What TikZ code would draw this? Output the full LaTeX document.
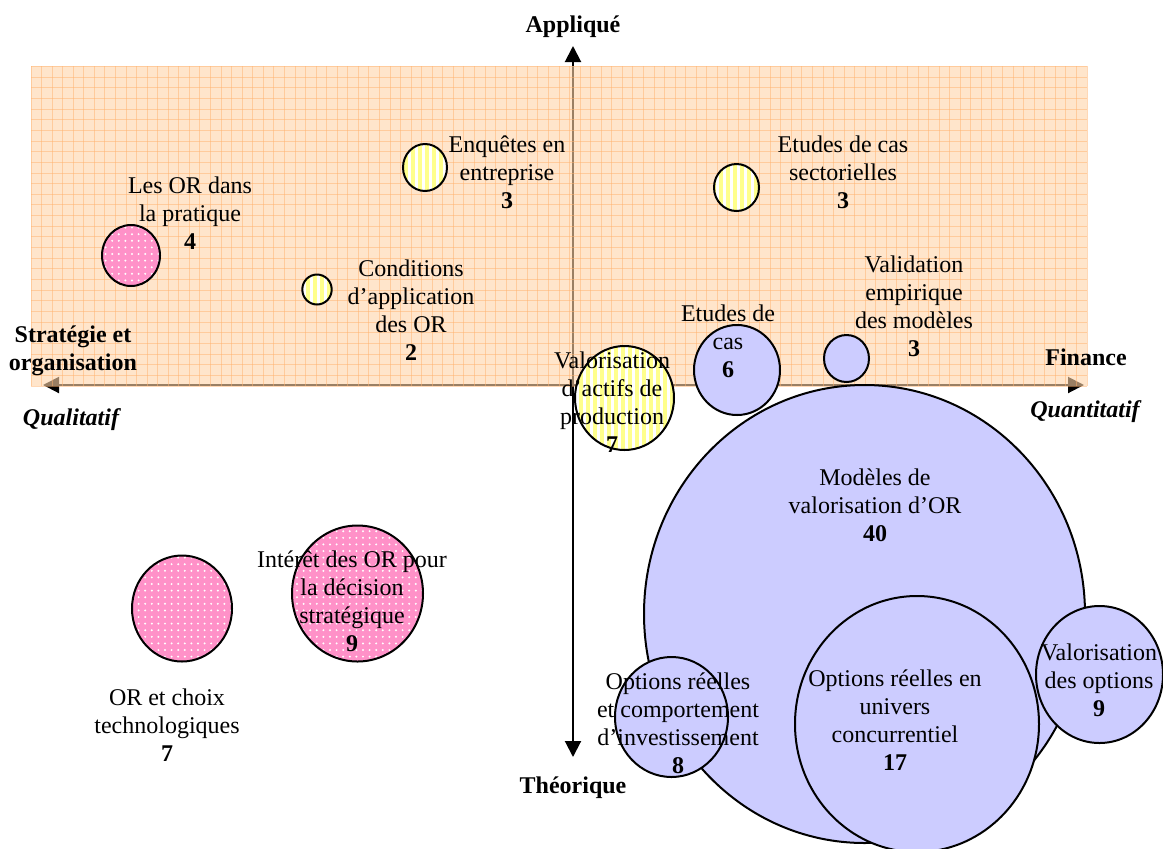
\documentclass[tikz,border=0pt]{standalone}
\usepackage{fontspec}
\setmainfont{Liberation Serif}
\usetikzlibrary{arrows.meta,shapes.geometric,patterns.meta}
\definecolor{bubblue}{RGB}{204,204,255}
\definecolor{bubpink}{RGB}{255,145,200}
\definecolor{bubyellow}{RGB}{255,255,140}
\definecolor{bgpeach}{RGB}{255,212,168}
\definecolor{gridpeach}{RGB}{255,178,110}
\begin{document}
\begin{tikzpicture}[x=0.5pt,y=-0.5pt,
  bubble/.style={ellipse, draw, line width=1pt, inner sep=0pt, outer sep=0pt},
  bluebub/.style={bubble, fill=bubblue},
  pinkbub/.style={bubble, preaction={fill=bubpink}, pattern={Dots[radius=0.55pt,distance=3.3pt]}, pattern color=white},
  yellowbub/.style={bubble, preaction={fill=white}, pattern={Lines[angle=90,distance=3.5pt,line width=1.6pt]}, pattern color=bubyellow},
  lbl/.style={align=center, inner sep=0pt, font=\fontsize{12}{14}\selectfont},
  axlbl/.style={lbl, font=\fontsize{12}{14}\selectfont\bfseries},
  axis/.style={line width=1pt, {Triangle[length=8pt,width=8pt]}-{Triangle[length=8pt,width=8pt]}}]
\useasboundingbox (0,0) rectangle (1163,848);
% axes
\coordinate (xl) at (43,385);
\coordinate (xr) at (1084,385);
\coordinate (yt) at (573,46);
\coordinate (yb) at (573,757);
\draw[axis] (xl) -- (xr);
\draw[axis] (yt) -- (yb);
% applied zone
\fill[bgpeach, fill opacity=.6] (31,66) rectangle (1087,386);
\foreach \gx in {0,...,100} \draw[gridpeach, line width=.5pt, opacity=.5] ({31+10.56*\gx},66) -- ({31+10.56*\gx},386);
\foreach \gy in {0,...,30} \draw[gridpeach, line width=.5pt, opacity=.5] (31,{386-10.65*\gy}) -- (1087,{386-10.65*\gy});
% bubbles
\node[bluebub, minimum width=220.5pt, minimum height=229pt] (modeles) at (864.5,614) {};
\node[bluebub, minimum width=122pt, minimum height=128pt] (concur) at (917,724) {};
\node[bluebub, minimum width=63.5pt, minimum height=68.5pt] (valopt) at (1099.5,674.5) {};
\node[bluebub, minimum width=56.5pt, minimum height=60pt] (comport) at (671.5,717) {};
\node[bluebub, minimum width=43pt, minimum height=45pt] (cas) at (737,370) {};
\node[bluebub, minimum width=22.5pt, minimum height=23.5pt] (valid) at (846.5,358.5) {};
\node[yellowbub, minimum width=49.5pt, minimum height=52pt] (actifs) at (624.5,398) {};
\node[yellowbub, minimum width=22pt, minimum height=23.5pt] (enquetes) at (425,167.5) {};
\node[yellowbub, minimum width=22.5pt, minimum height=23.5pt] (sector) at (736.5,187.5) {};
\node[yellowbub, minimum width=14.7pt, minimum height=15pt] (condit) at (317,289.5) {};
\node[pinkbub, minimum width=29pt, minimum height=30.5pt] (pratique) at (131,255.5) {};
\node[pinkbub, minimum width=50pt, minimum height=53pt] (choix) at (182,608.5) {};
\node[pinkbub, minimum width=65.5pt, minimum height=68pt] (interet) at (357.5,593.5) {};
% labels
\node[lbl] (lpratique) at (190,213) {Les OR dans\\la pratique\\\textbf{4}};
\node[lbl] (lcondit) at (411,310) {Conditions\\d’application\\des OR\\\textbf{2}};
\node[lbl] (lenquetes) at (507,172) {Enquêtes en\\entreprise\\\textbf{3}};
\node[lbl] (lsector) at (843,172) {Etudes de cas\\sectorielles\\\textbf{3}};
\node[lbl] (lvalid) at (914,306) {Validation\\empirique\\des modèles\\\textbf{3}};
\node[lbl] (lcas) at (728,341) {Etudes de\\cas\\\textbf{6}};
\node[lbl] (lactifs) at (612,402) {Valorisation\\d’actifs de\\production\\\textbf{7}};
\node[lbl] (lmodeles) at (875,505) {Modèles de\\valorisation d’OR\\\textbf{40}};
\node[lbl] (lconcur) at (895,720) {Options réelles en\\univers\\concurrentiel\\\textbf{17}};
\node[lbl] (lvalopt) at (1099,680) {Valorisation\\des options\\\textbf{9}};
\node[lbl] (lcomport) at (678,723) {Options réelles\\et comportement\\d’investissement\\\textbf{8}};
\node[lbl] (linteret) at (352,601) {Intérêt des OR pour\\la décision\\stratégique\\\textbf{9}};
\node[lbl] (lchoix) at (167,725) {OR et choix\\technologiques\\\textbf{7}};
% axis labels
\node[axlbl] (applique) at (573,27) {Appliqué};
\node[axlbl] (theorique) at (573,788) {Théorique};
\node[axlbl] (strategie) at (73,351) {Stratégie et\\organisation};
\node[axlbl] (finance) at (1086,357) {Finance};
\node[axlbl] (qualit) at (72,420) {\textit{Qualitatif}};
\node[axlbl] (quantit) at (1086,412) {\textit{Quantitatif}};
\end{tikzpicture}
\end{document}
